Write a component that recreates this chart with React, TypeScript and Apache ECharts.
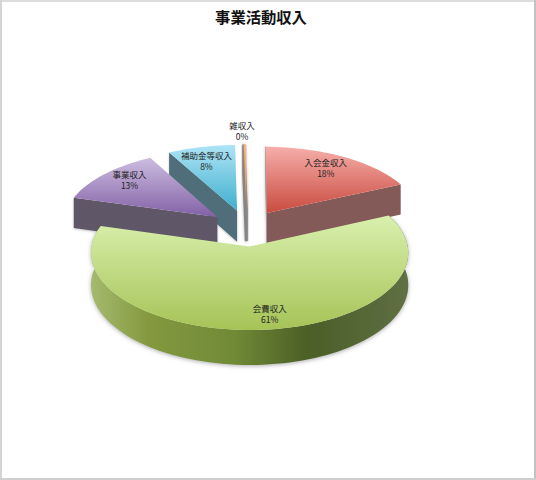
import React, { useEffect, useRef } from "react";
import * as echarts from "echarts";

const categories = ["入会金収入", "会費収入", "事業収入", "補助金等収入", "雑収入"];
const values = [18.2, 61.2, 12.6, 7.7, 0.3];
const labelRadius = [0.74, 0.87, 0.77, 0.72, 1.17];
const labelAngleShift = [1, -3.4, 0, -2.5, -1];
const topColors = [
  ["#f6aeaa", "#c94b3f"],
  ["#d9f0ae", "#a6c357"],
  ["#cdbde0", "#8261a6"],
  ["#aee4f6", "#3eaecd"],
  ["#fbb883", "#e58a33"],
];
const wallColors = ["#845a58", "#6f8a38", "#5f5668", "#4f6e79", "#858585"];
const titleText = "事業活動収入";

const FONT = '"Noto Sans CJK JP", "Noto Sans", sans-serif';
const CX = 246.7;
const CY = 228;
const RX = 155;
const RY = 73.8;
const PERSP = 0.08;
const DEPTH = 31.5;
const EXPLODE = 0.245;
const LABEL_LIFT = 4;

const total = values.reduce((a, b) => a + b, 0);
const starts: number[] = [];
values.reduce((acc, v, i) => {
  starts[i] = acc;
  return acc + v;
}, 0);

function angles(i: number) {
  const a0 = (starts[i] / total) * Math.PI * 2;
  const a1 = ((starts[i] + values[i]) / total) * Math.PI * 2;
  return { a0, a1, mid: (a0 + a1) / 2 };
}

function project(U: number, V: number, h: number): [number, number] {
  const s = 1 / (1 - PERSP * V);
  return [CX + RX * U * s, CY + RY * V * s + h * s];
}

function slicePoint(i: number, a: number, r: number, h: number) {
  const { mid } = angles(i);
  const ou = EXPLODE * Math.sin(mid);
  const ov = -EXPLODE * Math.cos(mid);
  return project(ou + r * Math.sin(a), ov - r * Math.cos(a), h);
}

function arcPoints(i: number, a0: number, a1: number, h: number) {
  const n = Math.max(2, Math.ceil(((a1 - a0) / (Math.PI * 2)) * 160));
  const pts: [number, number][] = [];
  for (let k = 0; k <= n; k++) pts.push(slicePoint(i, a0 + ((a1 - a0) * k) / n, 1, h));
  return pts;
}

const order = categories
  .map((_, i) => i)
  .sort((a, b) => -Math.cos(angles(a).mid) - -Math.cos(angles(b).mid));

function vGrad(stops: string[]) {
  return new echarts.graphic.LinearGradient(0, 0, 0, 1, [
    { offset: 0, color: stops[0] },
    { offset: 1, color: stops[1] },
  ]);
}

function radialWall(i: number, a: number, fill: any, extra: any = {}) {
  const p = slicePoint(i, a, 1, 0);
  const c = slicePoint(i, a, 0, 0);
  const pb = slicePoint(i, a, 1, DEPTH);
  const cb = slicePoint(i, a, 0, DEPTH);
  return {
    type: "polygon",
    shape: { points: [c, p, pb, cb] },
    style: { fill, ...extra },
  };
}

function renderSlice(_params: any, api: any) {
  const i = api.value(0) as number;
  const { a0, a1, mid } = angles(i);
  const children: any[] = [];
  const apex = slicePoint(i, 0, 0, 0);
  const sweep = a1 - a0;

  if (sweep > Math.PI) {
    // the large slice shows its rim towards the viewer
    const top = arcPoints(i, a0, a1, 0);
    const bottom = arcPoints(i, a0, a1, DEPTH).reverse();
    children.push({
      type: "polygon",
      shape: { points: [...top, ...bottom] },
      style: {
        fill: new echarts.graphic.LinearGradient(0, 0, 1, 0, [
          { offset: 0, color: "#a5ba6e" },
          { offset: 0.18, color: "#84993f" },
          { offset: 0.45, color: "#708a36" },
          { offset: 0.68, color: "#4c5f27" },
          { offset: 0.88, color: "#566838" },
          { offset: 1, color: "#5f7044" },
        ]),
        shadowBlur: 4,
        shadowOffsetY: 1,
        shadowColor: "rgba(90,90,90,0.5)",
      },
    });
  } else if (sweep < 0.1) {
    // the sliver is seen almost edge on, only its soft grey cut face shows
    children.push(
      radialWall(i, a0, wallColors[i], {
        stroke: wallColors[i],
        lineWidth: 3,
        shadowBlur: 3,
        shadowColor: "rgba(110,110,110,0.6)",
      }),
    );
  } else if (Math.sin(a1) > 0) {
    children.push(
      radialWall(i, a0, "#a0a0a0", {
        stroke: "#a0a0a0",
        lineWidth: 1,
        shadowBlur: 3,
        shadowColor: "rgba(110,110,110,0.5)",
      }),
    );
    children.push(radialWall(i, a1, wallColors[i]));
  } else {
    children.push(
      radialWall(i, a0, wallColors[i], {
        shadowBlur: 2,
        shadowOffsetY: 1,
        shadowColor: "rgba(90,90,90,0.35)",
      }),
    );
  }

  children.push({
    type: "polygon",
    shape: { points: [apex, ...arcPoints(i, a0, a1, 0)] },
    style: { fill: vGrad(topColors[i]) },
  });

  const [lx, ly] = slicePoint(i, mid + (labelAngleShift[i] * Math.PI) / 180, labelRadius[i], 0);
  children.push({
    type: "text",
    z2: 10,
    style: {
      text: `${categories[i]}\n${Math.round((values[i] / total) * 100)}%`,
      x: lx,
      y: ly - LABEL_LIFT,
      align: "center",
      verticalAlign: "middle",
      fontSize: 8.5,
      lineHeight: 11,
      fontFamily: FONT,
      fill: "#222222",
    },
  });
  return { type: "group", children };
}

export default function App() {
  const ref = useRef<HTMLDivElement>(null);
  useEffect(() => {
    document.body.style.margin = "0";
    const chart = echarts.init(ref.current!, undefined, { renderer: "svg" });
    chart.setOption({
      animation: false,
      backgroundColor: "#ffffff",
      title: {
        text: titleText,
        left: 256,
        top: 3,
        textAlign: "center",
        textStyle: { fontSize: 15.3, fontWeight: "bold", fontFamily: FONT, color: "#111111" },
      },
      graphic: [
        { type: "line", shape: { x1: 0, y1: 1, x2: 536, y2: 1 }, style: { stroke: "#dcdcdc", lineWidth: 2 } },
        { type: "line", shape: { x1: 1, y1: 0, x2: 1, y2: 480 }, style: { stroke: "#d4d4d4", lineWidth: 2 } },
        { type: "line", shape: { x1: 535, y1: 0, x2: 535, y2: 480 }, style: { stroke: "#c2c2c2", lineWidth: 2 } },
        { type: "line", shape: { x1: 0, y1: 479, x2: 536, y2: 479 }, style: { stroke: "#cfcfcf", lineWidth: 2 } },
      ],
      series: [
        {
          type: "custom",
          coordinateSystem: "none",
          silent: true,
          renderItem: renderSlice,
          data: order.map((i) => [i]),
        },
      ],
    });
    return () => chart.dispose();
  }, []);
  return <div ref={ref} style={{ width: 536, height: 480 }} />;
}
